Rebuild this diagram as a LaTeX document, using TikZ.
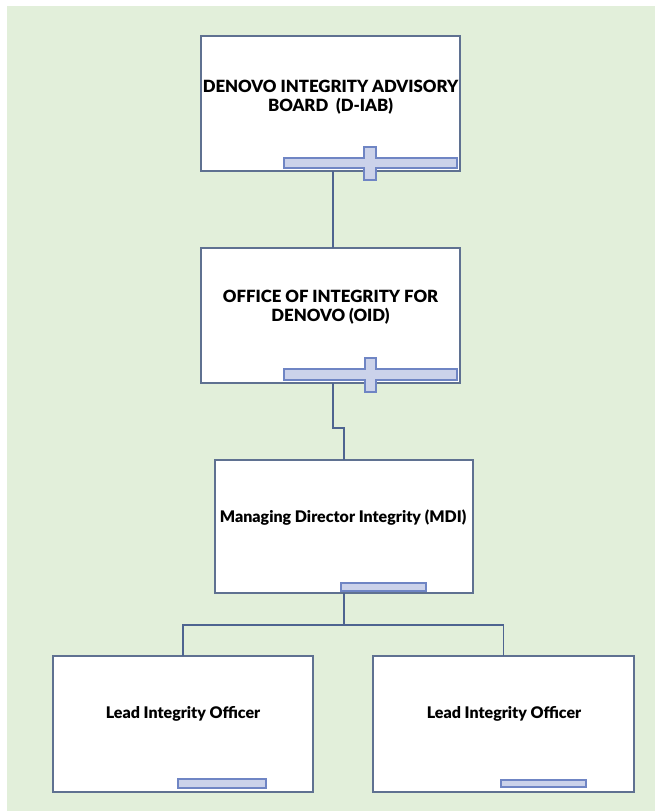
\documentclass[tikz,border=0pt]{standalone}
\usepackage{fontspec}
\setmainfont{Lato}[BoldFont={Lato Black}]
\begin{document}
\begin{tikzpicture}[x=0.75pt,y=-0.75pt,
  box/.style={draw=boxline,fill=white,line width=0.9pt,inner sep=0pt,outer sep=0pt},
  label/.style={font=\bfseries\fontsize{12}{14.3}\selectfont,align=center,text=black,inner sep=0pt},
  caps/.style={label,font=\bfseries\fontsize{12.6}{14.3}\selectfont},
  bar/.style={draw=barline,fill=barfill,line width=0.9pt},
  link/.style={draw=linkcol,line width=0.9pt}]
\definecolor{bg}{HTML}{E2EFDA}
\definecolor{boxline}{HTML}{5F7191}
\definecolor{linkcol}{HTML}{4E6490}
\definecolor{barline}{HTML}{6F85C4}
\definecolor{barfill}{HTML}{CBD2EA}

% page and background
\useasboundingbox (0,0) rectangle (655,811);
\fill[bg] (7,6) rectangle (655,811);

% boxes
\node[box,minimum width={259*0.75pt},minimum height={135*0.75pt}] (b1) at (330.5,103.5) {};
\node[box,minimum width={259*0.75pt},minimum height={135*0.75pt}] (b2) at (330.5,315.5) {};
\node[box,minimum width={258*0.75pt},minimum height={133*0.75pt}] (b3) at (344,526.5) {};
\node[box,minimum width={260*0.75pt},minimum height={136*0.75pt}] (b4) at (183,724) {};
\node[box,minimum width={261*0.75pt},minimum height={136*0.75pt}] (b5) at (503.5,724) {};

% connectors
\coordinate (split) at (344,625);
\draw[link] ([xshift=1.9pt]b1.south) -- ([xshift=1.9pt]b2.north);
\draw[link] ([xshift=1.9pt]b2.south) -- ++(0,45) -| (b3.north);
\draw[link] (b3.south) -- (split);
\draw[link] (b4.north) |- (split) -| (b5.north);

% bars with plus handles
\draw[bar] (284,158) -- (364,158) -- (364,147) -- (376,147) -- (376,158) -- (457,158)
  -- (457,168) -- (376,168) -- (376,180) -- (364,180) -- (364,168) -- (284,168) -- cycle;
\draw[bar] (284,369) -- (365,369) -- (365,358) -- (376,358) -- (376,369) -- (457,369)
  -- (457,380) -- (376,380) -- (376,392) -- (365,392) -- (365,380) -- (284,380) -- cycle;
\draw[bar] (341,583) rectangle (426,591);
\draw[bar] (178,779) rectangle (266,788);
\draw[bar] (501,780) rectangle (586,787);

% labels
\node[caps] (t1) at (330.5,97) {DENOVO INTEGRITY ADVISORY\\BOARD\ \ (D-IAB)};
\node[caps] (t2) at (330.5,307) {OFFICE OF INTEGRITY FOR\\DENOVO (OID)};
\node[label] (t3) at (343,518) {Managing Director Integrity (MDI)};
\node[label] (t4) at (183,714) {Lead Integrity Officer};
\node[label] (t5) at (504,714) {Lead Integrity Officer};
\end{tikzpicture}
\end{document}
